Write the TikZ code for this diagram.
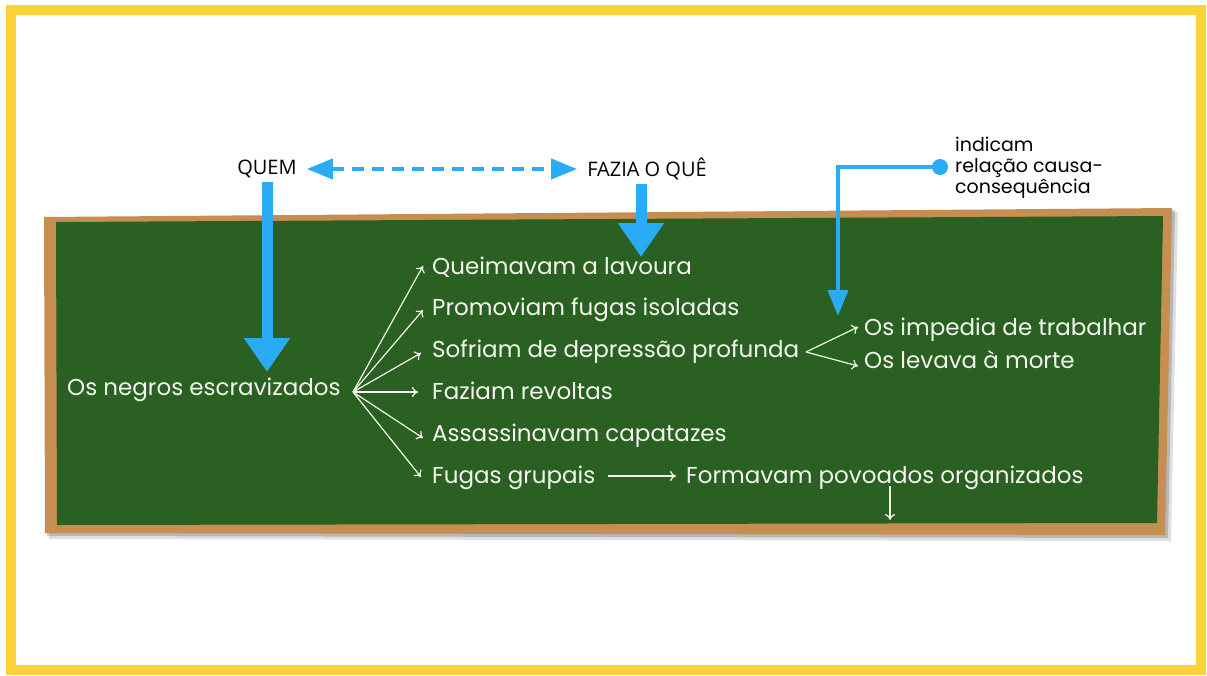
\documentclass[tikz,border=0pt]{standalone}
\usepackage{fontspec}
\setmainfont{Open Sans}
\newfontfamily\labelfont{Poppins}
\newfontfamily\chalkfont{Poppins}
\usetikzlibrary{arrows.meta,calc}
\definecolor{frameyellow}{RGB}{252,210,58}
\definecolor{boardgreen}{RGB}{42,96,34}
\definecolor{woodbrown}{RGB}{198,143,81}
\definecolor{arrowblue}{RGB}{41,171,246}
\definecolor{chalk}{RGB}{246,246,240}
\tikzset{
  toplabel/.style={font=\fontsize{20}{22}\selectfont, text=black, inner sep=0pt},
  chalktext/.style={font=\chalkfont\fontsize{23}{26}\selectfont, text=chalk, inner sep=0pt, anchor=mid west},
  chalkarrow/.style={draw=chalk, line width=1.2pt, -{To[length=6pt,width=10pt]}},
  bigarrow/.style={draw=arrowblue, line width=11pt, -{Triangle[length=34pt,width=44pt]}},
  thinblue/.style={draw=arrowblue, line width=4pt}
}
\begin{document}
\begin{tikzpicture}[x=1pt,y=-1pt]
\useasboundingbox (0,0) rectangle (1207,675);
\fill[white] (0,0) rectangle (1207,675);
% yellow frame
\draw[frameyellow, line width=10pt] (11,10) rectangle (1201,670);
% board shadow
\fill[black, opacity=0.12] (49,221) -- (1178,212) -- (1171,541) -- (49,539) -- cycle;
\fill[black, opacity=0.18] (47,219) -- (1175,210) -- (1168,538) -- (47,536) -- cycle;
% board
\fill[woodbrown] (44,217) -- (1172,208) -- (1165,535) -- (45,533) -- cycle;
\fill[boardgreen] (56,222) -- (1163,216) -- (1157,523) -- (57,525) -- cycle;

% top labels
\node[toplabel] (quem) at (267,169) {QUEM};
\node[toplabel] (fazia) at (647,169) {FAZIA O QUÊ};
\node[circle, fill=arrowblue, minimum size=16pt, inner sep=0pt] (dot) at (940,167) {};
\node[font=\labelfont\fontsize{19}{21}\selectfont, align=left, anchor=west, inner sep=0pt] (causa) at (955,168)
  {indicam\\relação causa-\\consequência};
\coordinate (causaend) at (838,316);

% blue arrows
\draw[bigarrow] ([yshift=-4pt]quem.south) -- (267,372) coordinate (quemend);
\draw[bigarrow] ([yshift=-4pt]fazia.south -| 641,0) -- (641,257) coordinate (faziaend);
\draw[thinblue, dash pattern=on 12pt off 8pt,
  {Triangle[length=26pt,width=20pt]}-{Triangle[length=26pt,width=20pt]}]
  ([xshift=10pt]quem.east) -- ([xshift=-10pt]fazia.west);
\draw[thinblue, -{Triangle[length=26pt,width=20pt]}] (dot.center) -| (causaend);

% chalk texts
\node[chalktext] (negros) at (67,393) {Os negros escravizados};
\node[chalktext] (q1) at (432,272) {Queimavam a lavoura};
\node[chalktext] (q2) at (432,313) {Promoviam fugas isoladas};
\node[chalktext] (q3) at (432,355) {Sofriam de depressão profunda};
\node[chalktext] (q4) at (432,397) {Faziam revoltas};
\node[chalktext] (q5) at (432,439) {Assassinavam capatazes};
\node[chalktext] (q6) at (432,481) {Fugas grupais};
\node[chalktext] (q7) at (686,481) {Formavam povoados organizados};
\node[chalktext] (r1) at (864,333) {Os impedia de trabalhar};
\node[chalktext] (r2) at (864,366) {Os levava à morte};
\coordinate (fan) at (353,392);
\coordinate (split) at (806,352);
\coordinate (downend) at (890,520);

% chalk arrows (yshift is in canvas units: positive = up)
\draw[chalkarrow] (fan) -- ([xshift=-9pt,yshift=6pt]q1.mid west);
\draw[chalkarrow] (fan) -- ([xshift=-9pt,yshift=3pt]q2.mid west);
\draw[chalkarrow] (fan) -- ([xshift=-11pt,yshift=2pt]q3.mid west);
\draw[chalkarrow] (fan) -- ([xshift=-14pt,yshift=5pt]q4.mid west);
\draw[chalkarrow] (fan) -- ([xshift=-9pt,yshift=1pt]q5.mid west);
\draw[chalkarrow] (fan) -- ([xshift=-11pt,yshift=4pt]q6.mid west);
\draw[chalkarrow] (split) -- ([xshift=-6pt,yshift=6pt]r1.mid west);
\draw[chalkarrow] (split) -- ([xshift=-6pt,yshift=0pt]r2.mid west);
\draw[chalkarrow] ([yshift=5pt]q6.mid west -| 608,0) -- ([xshift=-10pt,yshift=5pt]q7.mid west);
\draw[chalkarrow] ([yshift=4pt]q7.south -| downend) -- (downend);
\end{tikzpicture}
\end{document}
